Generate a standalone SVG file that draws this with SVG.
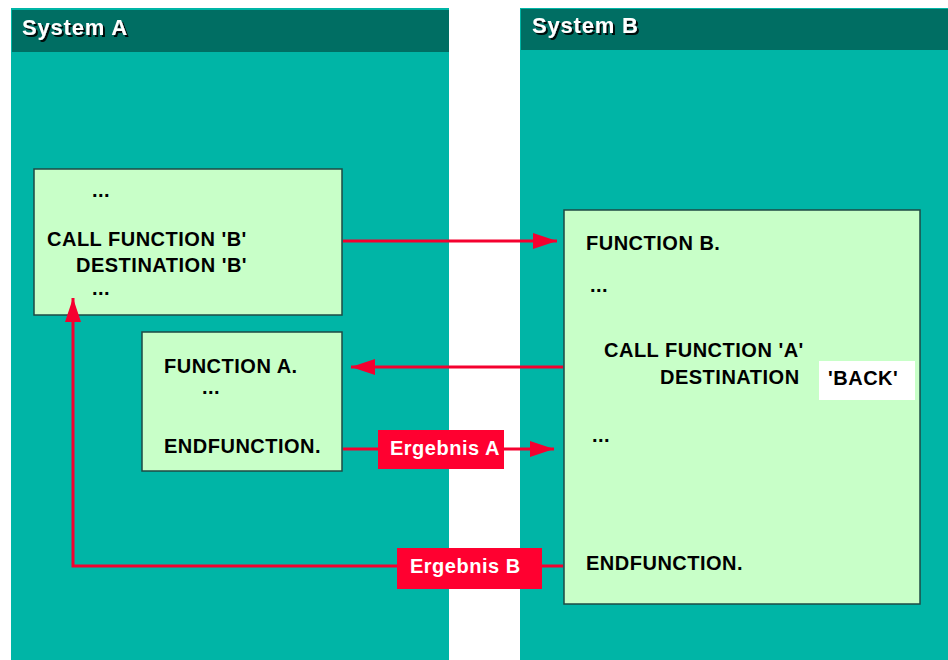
<svg xmlns="http://www.w3.org/2000/svg" width="948" height="660" viewBox="0 0 948 660">
<style>
.panel{fill:#00B5A6}
.hdr{fill:#006E63}
.htxt{font-family:"Liberation Sans",Arial,sans-serif;font-weight:bold;font-size:22px;letter-spacing:0.8px;fill:#fff;filter:url(#sh)}
.box{fill:#C8FFC8;stroke:#1E4A44;stroke-width:1.5}
.t{font-family:"Liberation Sans",Arial,sans-serif;font-weight:bold;font-size:20px;letter-spacing:0.5px;fill:#000}
.lt{font-family:"Liberation Sans",Arial,sans-serif;font-weight:bold;font-size:20px;letter-spacing:0.5px;fill:#fff}
.ln{fill:none;stroke:#F5002F;stroke-width:3}
.lab{fill:#FF0030}
</style>
<defs>
<filter id="sh" x="-10%" y="-30%" width="130%" height="160%">
<feDropShadow dx="2" dy="2" stdDeviation="0.4" flood-color="#000" flood-opacity="0.9"/>
</filter>
<marker id="ah" markerUnits="userSpaceOnUse" markerWidth="24" markerHeight="16" refX="24" refY="8" orient="auto">
<path d="M0,0 L24,8 L0,16 Z" fill="#F5002F"/>
</marker>
</defs>
<rect width="948" height="660" fill="#fff"/>
<g id="systemA">
<rect class="panel" x="11" y="8" width="438" height="652"/>
<rect class="hdr" x="12" y="10" width="437" height="42"/>
<text class="htxt" x="22" y="35">System A</text>
</g>
<g id="systemB">
<rect class="panel" x="520" y="8" width="428" height="652"/>
<rect class="hdr" x="521" y="9" width="427" height="41"/>
<text class="htxt" x="532" y="33">System B</text>
</g>
<g id="callerA">
<rect class="box" x="34" y="169" width="308" height="146"/>
<text class="t" x="92" y="197">...</text>
<text class="t" x="47" y="246">CALL FUNCTION 'B'</text>
<text class="t" x="76" y="272">DESTINATION 'B'</text>
<text class="t" x="92" y="295">...</text>
</g>
<g id="functionA">
<rect class="box" x="142" y="332" width="200" height="139"/>
<text class="t" x="164" y="373">FUNCTION A.</text>
<text class="t" x="202" y="394">...</text>
<text class="t" x="164" y="453">ENDFUNCTION.</text>
</g>
<g id="functionB">
<rect class="box" x="564" y="210" width="356" height="394"/>
<text class="t" x="586" y="250">FUNCTION B.</text>
<text class="t" x="590" y="292">...</text>
<text class="t" x="604" y="357">CALL FUNCTION 'A'</text>
<text class="t" x="660" y="384">DESTINATION</text>
<rect x="819" y="361" width="96" height="39" fill="#fff"/>
<text class="t" x="828" y="385">'BACK'</text>
<text class="t" x="592" y="442">...</text>
<text class="t" x="586" y="570">ENDFUNCTION.</text>
</g>
<g id="connectors">
<line class="ln" x1="343" y1="241" x2="557" y2="241" marker-end="url(#ah)"/>
<line class="ln" x1="563" y1="367" x2="351" y2="367" marker-end="url(#ah)"/>
<line class="ln" x1="343" y1="449" x2="554" y2="449" marker-end="url(#ah)"/>
<polyline class="ln" points="563,566 73,566 73,298" marker-end="url(#ah)"/>
<g id="labelA">
<rect class="lab" x="378" y="430" width="126" height="39"/>
<text class="lt" x="390" y="455">Ergebnis A</text>
</g>
<g id="labelB">
<rect class="lab" x="397" y="548" width="145" height="41"/>
<text class="lt" x="410" y="573">Ergebnis B</text>
</g>
</g>
</svg>
